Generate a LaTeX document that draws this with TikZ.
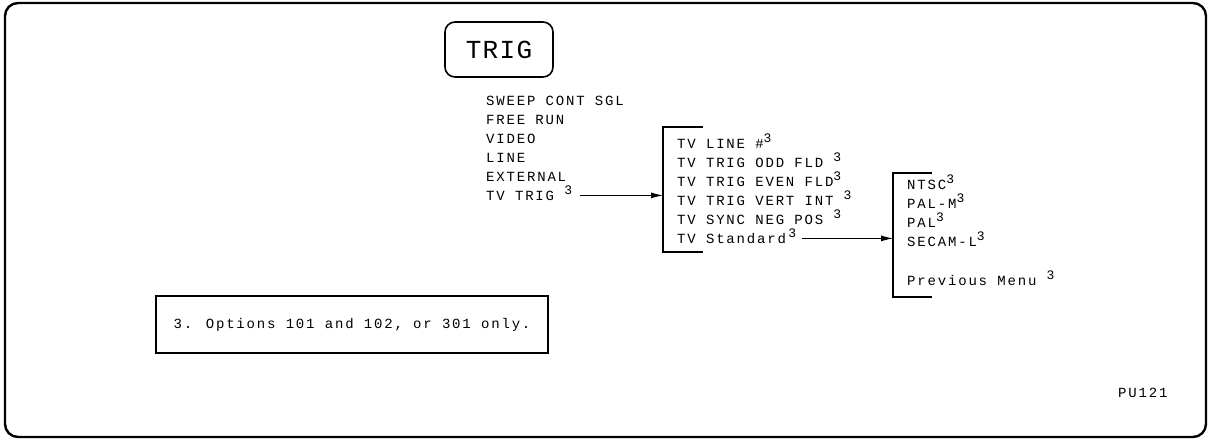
\documentclass[tikz,border=0pt]{standalone}
\usepackage{fontspec}
\usetikzlibrary{arrows.meta}
\newfontfamily\hpfont[LetterSpace=13]{Liberation Mono}
\newfontfamily\hpbig[LetterSpace=5]{Liberation Mono}
\newcommand{\fnt}{\raisebox{5.5pt}{\fontsize{13}{13}\selectfont 3}}

\begin{document}
\begin{tikzpicture}[x=1pt, y=-1pt,
  itm/.style={anchor=base west, inner sep=0pt, font=\hpfont\fontsize{14}{14}\selectfont},
  brk/.style={line width=2.2pt},
  arr/.style={-{Latex[length=12pt,width=6pt]}, line width=0.9pt}]
\useasboundingbox (0,0) rectangle (1209,440);
% frame
\draw[line width=2.4pt, rounded corners=13pt] (5,3) rectangle (1206,437);
% key
\node[draw, line width=1.6pt, rounded corners=10pt, minimum width=108pt, minimum height=55pt,
      font=\hpbig\fontsize{26}{26}\selectfont] (trig) at (499,49.5) {TRIG};
% trigger menu
\foreach \i/\t in {0/SWEEP CONT SGL,1/FREE RUN,2/VIDEO,3/LINE,4/EXTERNAL,5/TV TRIG \fnt}
  {\node[itm] (sw\i) at (486,105+19*\i) {\t};}
\coordinate (b1t) at (663,127);
\coordinate (b1b) at (663,252);
\draw[brk] ([xshift=40pt]b1t) -- (b1t) -- (b1b) -- ([xshift=40pt]b1b);
\coordinate (a1) at ([shift={(8pt,4.6pt)}]sw5.base east);
\draw[arr] (a1) -- (a1 -| b1t);
% TV trig menu
\foreach \i/\t in {0/TV LINE \#\fnt,1/TV TRIG ODD FLD \fnt,2/TV TRIG EVEN FLD\fnt,
                   3/TV TRIG VERT INT \fnt,4/TV SYNC NEG POS \fnt,5/TV Standard\,\fnt}
  {\node[itm] (tv\i) at (677,148+19*\i) {\t};}
\coordinate (b2t) at (893,173);
\coordinate (b2b) at (893,297);
\draw[brk] ([xshift=39pt]b2t) -- (b2t) -- (b2b) -- ([xshift=39pt]b2b);
\coordinate (a2) at ([shift={(6pt,4.6pt)}]tv5.base east);
\draw[arr] (a2) -- (a2 -| b2t);
% TV standard menu
\foreach \i/\t/\y in {0/NTSC\fnt/189,1/PAL-M\fnt/208,2/PAL\fnt/227,3/SECAM-L\fnt/246,4/Previous Menu \fnt/285}
  {\node[itm] (st\i) at (907,\y) {\t};}
% footnote
\node[draw, line width=1.5pt, minimum width=392pt, minimum height=57pt, inner sep=0pt,
      font=\hpfont\fontsize{14}{14}\selectfont] (note) at (352,324.5) {3. Options 101 and 102, or 301 only.};
\node[itm] (pu) at (1118,397) {PU121};
\end{tikzpicture}
\end{document}
